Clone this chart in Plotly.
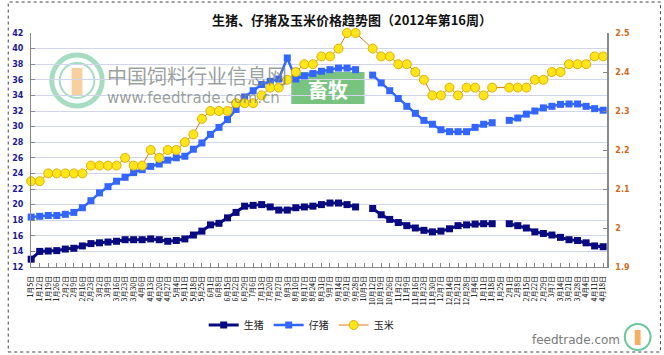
import plotly.graph_objects as go

# ---------------- data ----------------
week_labels = [
    "1月5日", "1月12日", "1月19日", "1月26日", "2月2日", "2月9日", "2月16日", "2月23日",
    "3月2日", "3月9日", "3月16日", "3月23日", "3月30日", "4月6日", "4月13日", "4月20日", "4月27日",
    "5月4日", "5月11日", "5月18日", "5月25日", "6月1日", "6月8日", "6月15日", "6月22日", "6月29日",
    "7月6日", "7月13日", "7月20日", "7月27日", "8月3日", "8月10日", "8月17日", "8月24日", "8月31日",
    "9月7日", "9月14日", "9月21日", "9月28日", "10月5日", "10月12日", "10月19日", "10月26日",
    "11月2日", "11月9日", "11月16日", "11月23日", "11月30日", "12月7日", "12月14日", "12月21日", "12月28日",
    "1月4日", "1月11日", "1月18日", "1月25日", "2月1日", "2月8日", "2月15日", "2月22日", "2月29日",
    "3月7日", "3月14日", "3月21日", "3月28日", "4月4日", "4月11日", "4月18日",
]

hog_price = [  # 生猪
    13.0, 14.0, 14.05, 14.1, 14.3, 14.4, 14.7, 15.0, 15.1, 15.2, 15.3, 15.5, 15.5, 15.5, 15.6, 15.5, 15.3,
    15.4, 15.6, 16.1, 16.6, 17.4, 17.6, 18.3, 19.0, 19.8, 19.9, 20.0, 19.7, 19.3, 19.3, 19.6, 19.7,
    19.8, 20.0, 20.2, 20.2, 20.0, 19.7, None, 19.5, 18.7, 18.1, 17.7, 17.3, 17.0, 16.7, 16.5, 16.6,
    16.9, 17.3, 17.4, 17.5, 17.55, 17.55, None, 17.55, 17.3, 17.0, 16.5, 16.3, 16.1, 15.8, 15.5, 15.4,
    15.1, 14.7, 14.6,
]

piglet_price = [  # 仔猪
    18.4, 18.5, 18.6, 18.6, 18.75, 19.0, 19.6, 20.5, 21.5, 22.3, 23.0, 23.5, 24.1, 24.5, 24.9, 25.2, 25.7,
    26.0, 26.2, 27.1, 27.9, 29.0, 29.9, 30.9, 32.2, 33.8, 34.6, 35.4, 35.8, 36.1, 38.8, 36.1, 36.5,
    36.8, 37.1, 37.3, 37.5, 37.5, 37.3, None, 36.6, 35.6, 34.6, 33.6, 32.6, 31.7, 30.8, 30.3, 29.6,
    29.35, 29.35, 29.35, 29.9, 30.3, 30.5, None, 30.8, 31.1, 31.6, 32.0, 32.4, 32.6, 32.85, 32.9, 32.9,
    32.6, 32.3, 32.1,
]

corn_price = [  # 玉米
    2.12, 2.12, 2.14, 2.14, 2.14, 2.14, 2.14, 2.16, 2.16, 2.16, 2.16, 2.18, 2.16, 2.16, 2.20, 2.18, 2.20,
    2.20, 2.22, 2.24, 2.28, 2.30, 2.30, 2.30, 2.32, 2.32, 2.32, 2.34, 2.36, 2.36, 2.38, 2.40, 2.42,
    2.42, 2.44, 2.44, 2.46, 2.50, 2.50, None, 2.46, 2.44, 2.44, 2.42, 2.42, 2.40, 2.38, 2.34, 2.34,
    2.36, 2.34, 2.36, 2.36, 2.34, 2.36, None, 2.36, 2.36, 2.36, 2.38, 2.38, 2.40, 2.40, 2.42, 2.42,
    2.42, 2.44, 2.44,
]

left_ticks = list(range(12, 43, 2))
right_ticks = [1.9, 2.0, 2.1, 2.2, 2.3, 2.4, 2.5]
right_tick_text = ["1.9", "2", "2.1", "2.2", "2.3", "2.4", "2.5"]

# ---------------- figure ----------------
W, H = 664, 355
L, R, T, B = 25, 57, 33, 88
PW, PH = W - L - R, H - T - B

def px(x):
    return (x - L) / PW

def py(y):
    return (H - B - y) / PH

x_idx = list(range(len(week_labels)))
CJK = "Noto Sans CJK SC"

fig = go.Figure()
fig.add_trace(go.Scatter(
    x=x_idx, y=hog_price, name="生猪", mode="lines+markers",
    line=dict(color="#0A0A80", width=3),
    marker=dict(symbol="square", size=7, color="#0A0A80"),
    connectgaps=False, cliponaxis=False,
))
fig.add_trace(go.Scatter(
    x=x_idx, y=piglet_price, name="仔猪", mode="lines+markers",
    line=dict(color="#3366FF", width=2.5),
    marker=dict(symbol="square", size=7, color="#3366FF"),
    connectgaps=False, cliponaxis=False,
))
fig.add_trace(go.Scatter(
    x=x_idx, y=corn_price, name="玉米", mode="lines+markers", yaxis="y2",
    line=dict(color="#E07A10", width=1),
    marker=dict(symbol="circle", size=9, color="#FFE51A", line=dict(color="#E0B000", width=1)),
    connectgaps=True, cliponaxis=False,
))

shapes = [
    # outer dotted frame
    dict(type="rect", xref="paper", yref="paper", x0=px(2), x1=px(661), y0=py(352), y1=py(2),
         line=dict(color="#444444", width=1, dash="dot"), layer="below"),
    # watermark logo rings
    dict(type="circle", xref="paper", yref="paper", x0=px(46), x1=px(97), y0=py(106), y1=py(55),
         line=dict(color="#6CC79A", width=5), opacity=0.6, layer="below"),
    dict(type="circle", xref="paper", yref="paper", x0=px(54), x1=px(89), y0=py(98), y1=py(63),
         line=dict(color="#6CC79A", width=2), opacity=0.6, layer="below"),
    dict(type="rect", xref="paper", yref="paper", x0=px(66), x1=px(77), y0=py(95), y1=py(68),
         line=dict(width=0), fillcolor="#F2B060", opacity=0.6, layer="below"),
    # green badge
    dict(type="rect", xref="paper", yref="paper", x0=px(288), x1=px(362), y0=py(104), y1=py(72),
         line=dict(width=0), fillcolor="#62B86A", opacity=0.85, layer="below"),
    # bottom-right logo
    dict(type="circle", xref="paper", yref="paper", x0=px(625), x1=px(651), y0=py(350), y1=py(324),
         line=dict(color="#6CC79A", width=2), layer="below"),
    dict(type="rect", xref="paper", yref="paper", x0=px(635), x1=px(641), y0=py(345), y1=py(330),
         line=dict(width=0), fillcolor="#F2B060", layer="below"),
]

annotations = [
    dict(text="中国饲料行业信息网", xref="paper", yref="paper", x=px(100), y=py(75),
         xanchor="left", yanchor="middle", showarrow=False,
         font=dict(family=CJK, size=20, color="rgba(120,130,125,0.75)")),
    dict(text="www.feedtrade.com.cn", xref="paper", yref="paper", x=px(100), y=py(98),
         xanchor="left", yanchor="middle", showarrow=False,
         font=dict(family="DejaVu Sans", size=15, color="rgba(120,130,125,0.75)")),
    dict(text="<b>畜牧</b>", xref="paper", yref="paper", x=px(325), y=py(89),
         xanchor="center", yanchor="middle", showarrow=False,
         font=dict(family=CJK, size=20, color="white")),
    dict(text="feedtrade.com", xref="paper", yref="paper", x=px(622), y=py(340),
         xanchor="right", yanchor="middle", showarrow=False,
         font=dict(family="DejaVu Sans", size=12, color="#7A7A7A")),
]

fig.update_layout(
    width=W, height=H,
    margin=dict(l=L, r=R, t=T, b=B, pad=0),
    paper_bgcolor="white", plot_bgcolor="white",
    title=dict(text="<b>生猪、仔猪及玉米价格趋势图（2012年第16周）</b>",
               x=352 / W, y=1 - 20 / H, xref="container", yref="container",
               xanchor="center", yanchor="middle",
               font=dict(family=CJK, size=13, color="#111111")),
    showlegend=True,
    legend=dict(orientation="h", x=px(298), y=py(325), xanchor="center", yanchor="middle",
                font=dict(family=CJK, size=10, color="#222222"), itemwidth=30,
                bgcolor="rgba(0,0,0,0)", traceorder="normal"),
    xaxis=dict(
        range=[-0.02, 67.45], tickmode="array", tickvals=x_idx, ticktext=week_labels,
        tickangle=-90, tickfont=dict(family=CJK, size=7, color="#000000"),
        ticks="inside", ticklen=4, tickcolor="#888888",
        showline=True, linecolor="#888888", linewidth=1,
        showgrid=False, zeroline=False, ticklabelstandoff=5,
    ),
    yaxis=dict(
        range=[12, 42], tickmode="array", tickvals=left_ticks,
        tickfont=dict(family="DejaVu Sans", size=8, color="#1A1A9A", weight="bold"),
        ticks="inside", ticklen=4, tickcolor="#888888",
        showline=True, linecolor="#888888", linewidth=1,
        showgrid=True, gridcolor="#D0D5EA", gridwidth=1, zeroline=False,
        ticklabelstandoff=5,
    ),
    yaxis2=dict(
        range=[1.9, 2.5], overlaying="y", side="right", tickmode="array",
        tickvals=right_ticks, ticktext=right_tick_text,
        tickfont=dict(family="DejaVu Sans", size=8, color="#D06A1A", weight="bold"),
        ticks="inside", ticklen=4, tickcolor="#888888",
        showline=True, linecolor="#888888", linewidth=1.5,
        showgrid=False, zeroline=False, ticklabelstandoff=5,
    ),
    shapes=shapes,
    annotations=annotations,
)

fig.write_html("out.html")
